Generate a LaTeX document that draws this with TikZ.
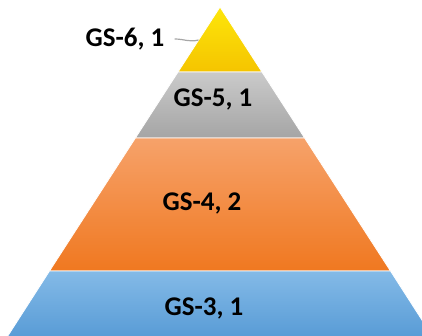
\documentclass[tikz,border=0pt]{standalone}
\usepackage{fontspec}
\setmainfont{Carlito}
\usepackage{xcolor}
\usepackage{tikz}
\usetikzlibrary{positioning}

\definecolor{topYellow}{HTML}{FDE60A}
\definecolor{botYellow}{HTML}{F5C400}
\definecolor{topGray}{HTML}{CACACA}
\definecolor{botGray}{HTML}{A5A5A5}
\definecolor{topOrange}{HTML}{F6A26A}
\definecolor{botOrange}{HTML}{F07820}
\definecolor{topBlue}{HTML}{84BAE7}
\definecolor{botBlue}{HTML}{5398D4}

\begin{document}
\begin{tikzpicture}[
  x=0.5pt,
  y=-0.5pt,
  layer/.style={draw=white, line width=0.4pt},
  grade/.style={font=\fontsize{13.5}{15}\selectfont\bfseries, inner sep=1pt},
  leader/.style={draw=gray!70, line width=0.6pt}
]
  \useasboundingbox (0,0) rectangle (422,336);
  \clip (0,0) rectangle (422,336);

  % layers, top to bottom
  \shade[layer, top color=topYellow, bottom color=botYellow]
    (220,7) -- (262,72) -- (178,72) -- cycle;
  \shade[layer, top color=topGray, bottom color=botGray]
    (178,72) -- (262,72) -- (304.6,138) -- (135.4,138) -- cycle;
  \shade[layer, top color=topOrange, bottom color=botOrange]
    (135.4,138) -- (304.6,138) -- (390.5,271) -- (49.5,271) -- cycle;
  \shade[layer, top color=topBlue, bottom color=botBlue]
    (49.5,271) -- (390.5,271) -- (438,345) -- (2,345) -- cycle;

  % labels
  \node[grade] (gs6) at (125,39) {GS-6, 1};
  \node[grade] (gs5) at (213,99) {GS-5, 1};
  \node[grade] (gs4) at (202,203) {GS-4, 2};
  \node[grade] (gs3) at (204,308) {GS-3, 1};

  \coordinate (tip6) at (198.5,40);
  \draw[leader] ([xshift=4pt]gs6.east) to[out=0, in=195] (tip6);
\end{tikzpicture}
\end{document}
